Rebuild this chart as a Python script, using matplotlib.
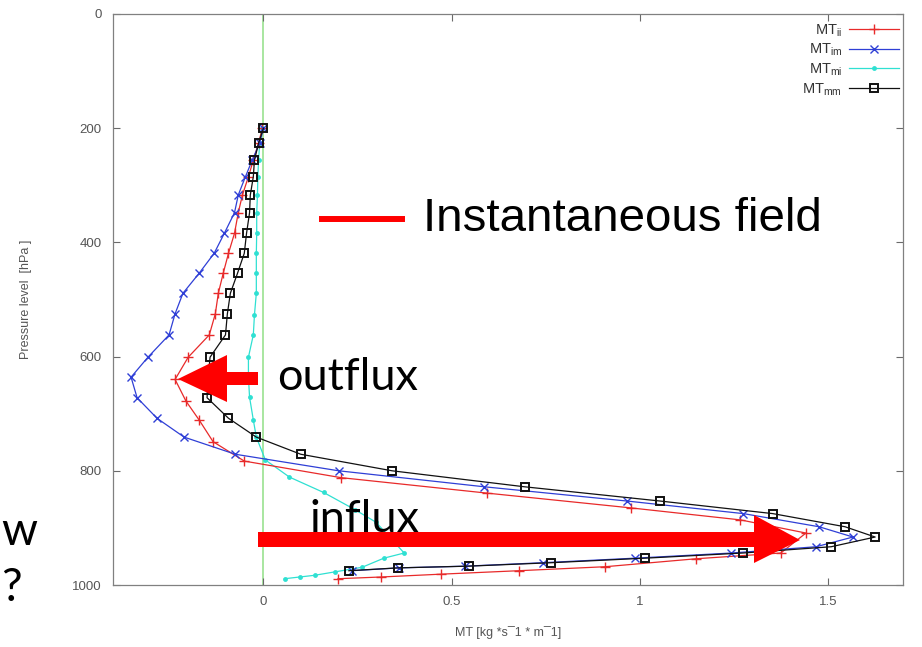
import matplotlib
matplotlib.use("Agg")
import matplotlib.pyplot as plt
from matplotlib.patches import Polygon
from matplotlib.lines import Line2D

# Pressure levels [hPa] and mass transport profiles
p_mm = [200, 226, 256, 285, 317, 348, 384, 419, 454, 489, 525, 562, 601, 636, 672, 708,
        741, 771, 800, 828, 853, 875, 898, 916, 933, 944, 953, 961, 967, 970, 975]
mt_mm = [0.0, -0.013, -0.024, -0.027, -0.035, -0.037, -0.045, -0.051, -0.069, -0.088, -0.096,
         -0.101, -0.142, -0.147, -0.150, -0.093, -0.019, 0.099, 0.342, 0.694, 1.055, 1.354,
         1.546, 1.626, 1.509, 1.274, 1.015, 0.764, 0.545, 0.358, 0.227]
mt_im = [0.0, -0.01, -0.03, -0.048, -0.067, -0.077, -0.104, -0.131, -0.171, -0.214, -0.235,
         -0.251, -0.307, -0.352, -0.336, -0.283, -0.211, -0.075, 0.200, 0.587, 0.967, 1.276,
         1.477, 1.567, 1.469, 1.244, 0.988, 0.742, 0.537, 0.36, 0.235]

p_ii = [200, 226, 256, 285, 317, 348, 384, 419, 454, 489, 525, 562, 601, 640, 678, 711,
        749, 783, 812, 839, 865, 886, 909, 944, 954, 968, 975, 981, 986, 989]
mt_ii = [-0.003, -0.013, -0.027, -0.04, -0.056, -0.067, -0.077, -0.093, -0.107, -0.120, -0.128,
         -0.144, -0.200, -0.235, -0.206, -0.171, -0.134, -0.051, 0.206, 0.593, 0.977, 1.268,
         1.442, 1.375, 1.151, 0.908, 0.678, 0.473, 0.312, 0.198]

p_mi = [200, 226, 256, 285, 317, 348, 384, 419, 454, 489, 527, 562, 601, 636, 671, 711,
        741, 781, 811, 838, 868, 890, 944, 953, 969, 977, 983, 986, 989]
mt_mi = [-0.005, -0.01, -0.013, -0.015, -0.016, -0.018, -0.018, -0.019, -0.019, -0.019, -0.024,
         -0.027, -0.040, -0.040, -0.037, -0.027, -0.019, 0.005, 0.069, 0.160, 0.243, 0.299,
         0.374, 0.320, 0.262, 0.190, 0.136, 0.096, 0.056]

x_ticks = [0, 0.5, 1, 1.5]
x_tick_labels = ["0", "0.5", "1", "1.5"]
y_ticks = [0, 200, 400, 600, 800, 1000]

W, H = 922, 647


def fx(px):
    return px / W


def fy(py):
    return 1 - py / H


plt.rcParams["font.family"] = ["Liberation Sans", "DejaVu Sans"]
plt.rcParams["mathtext.fontset"] = "custom"
plt.rcParams["mathtext.rm"] = "Liberation Sans"

fig = plt.figure(figsize=(W / 100, H / 100), dpi=100)
ax = fig.add_axes([fx(113), fy(585), fx(903) - fx(113), fy(14) - fy(585)])

gray = "#6a6a6a"
ax.axvline(0, color="#a8e6a0", lw=1.4, zorder=1)

ax.plot(mt_ii, p_ii, color="#e82a2a", lw=0.9, marker="+", ms=7, mew=1.0,
        label=r"MT$_{\mathrm{ii}}$", zorder=3)
ax.plot(mt_im, p_mm, color="#2f3fd6", lw=0.9, marker="x", ms=5.5, mew=1.0,
        label=r"MT$_{\mathrm{im}}$", zorder=3)
ax.plot(mt_mi, p_mi, color="#2fe0d2", lw=0.9, marker="o", ms=3.5, mew=0,
        label=r"MT$_{\mathrm{mi}}$", zorder=2)
ax.plot(mt_mm, p_mm, color="#111111", lw=0.9, marker="s", ms=6, mfc="none", mew=1.4,
        label=r"MT$_{\mathrm{mm}}$", zorder=4)

ax.set_xlim(-0.4, 1.7)
ax.set_ylim(1000, 0)
ax.set_xticks(x_ticks)
ax.set_xticklabels(x_tick_labels)
ax.set_yticks(y_ticks)
ax.tick_params(direction="in", length=5, width=0.8, color=gray, labelcolor="#555555",
               labelsize=9.5, top=True, right=True, pad=8)
for s in ax.spines.values():
    s.set_color("#808080")
    s.set_linewidth(0.9)

ax.set_xlabel("MT [kg *s\u00af1 * m\u00af1]", fontsize=9, color="#555555", labelpad=13)
ax.set_ylabel("Pressure level  [hPa ]", fontsize=9, color="#555555", labelpad=29)

leg = ax.legend(loc="upper right", bbox_to_anchor=(fx(899), fy(22)), bbox_transform=fig.transFigure,
                frameon=False, markerfirst=False, fontsize=10.5, handlelength=3.4,
                handletextpad=0.5, labelspacing=0.2, borderpad=0, borderaxespad=0)
for t in leg.get_texts():
    t.set_color("#333333")

# slide overlay: legend line and caption
fig.add_artist(Line2D([fx(322), fx(402)], [fy(219), fy(219)], color="red", lw=4.3,
                      transform=fig.transFigure, zorder=5))
fig.text(fx(423), fy(231), "Instantaneous field", fontsize=34.2, color="black",
         family="Liberation Sans", va="baseline", ha="left")

fig.text(fx(277), fy(390), "outflux", fontsize=32.5, color="black", family="Lato",
         va="baseline", ha="left")
fig.text(fx(309), fy(532), "influx", fontsize=32.5, color="black", family="Lato",
         va="baseline", ha="left")

# slide overlay: arrows
left_arrow = [(258, 372), (227, 372), (227, 355), (178, 379), (227, 402), (227, 385), (258, 385)]
right_arrow = [(258, 532), (754, 532), (754, 515), (800, 540), (754, 563), (754, 547), (258, 547)]
for verts in (left_arrow, right_arrow):
    fig.add_artist(Polygon([(fx(x), fy(y)) for x, y in verts], closed=True, color="red",
                           lw=0, transform=fig.transFigure, zorder=6))

# slide text fragments on the left edge
fig.text(fx(1), fy(545), "w", fontsize=33, color="black", family="Lato", ha="left", va="baseline")
fig.text(fx(1), fy(601), "?", fontsize=33, color="black", family="Lato", ha="left", va="baseline")

fig.savefig("out.png", dpi=100)
